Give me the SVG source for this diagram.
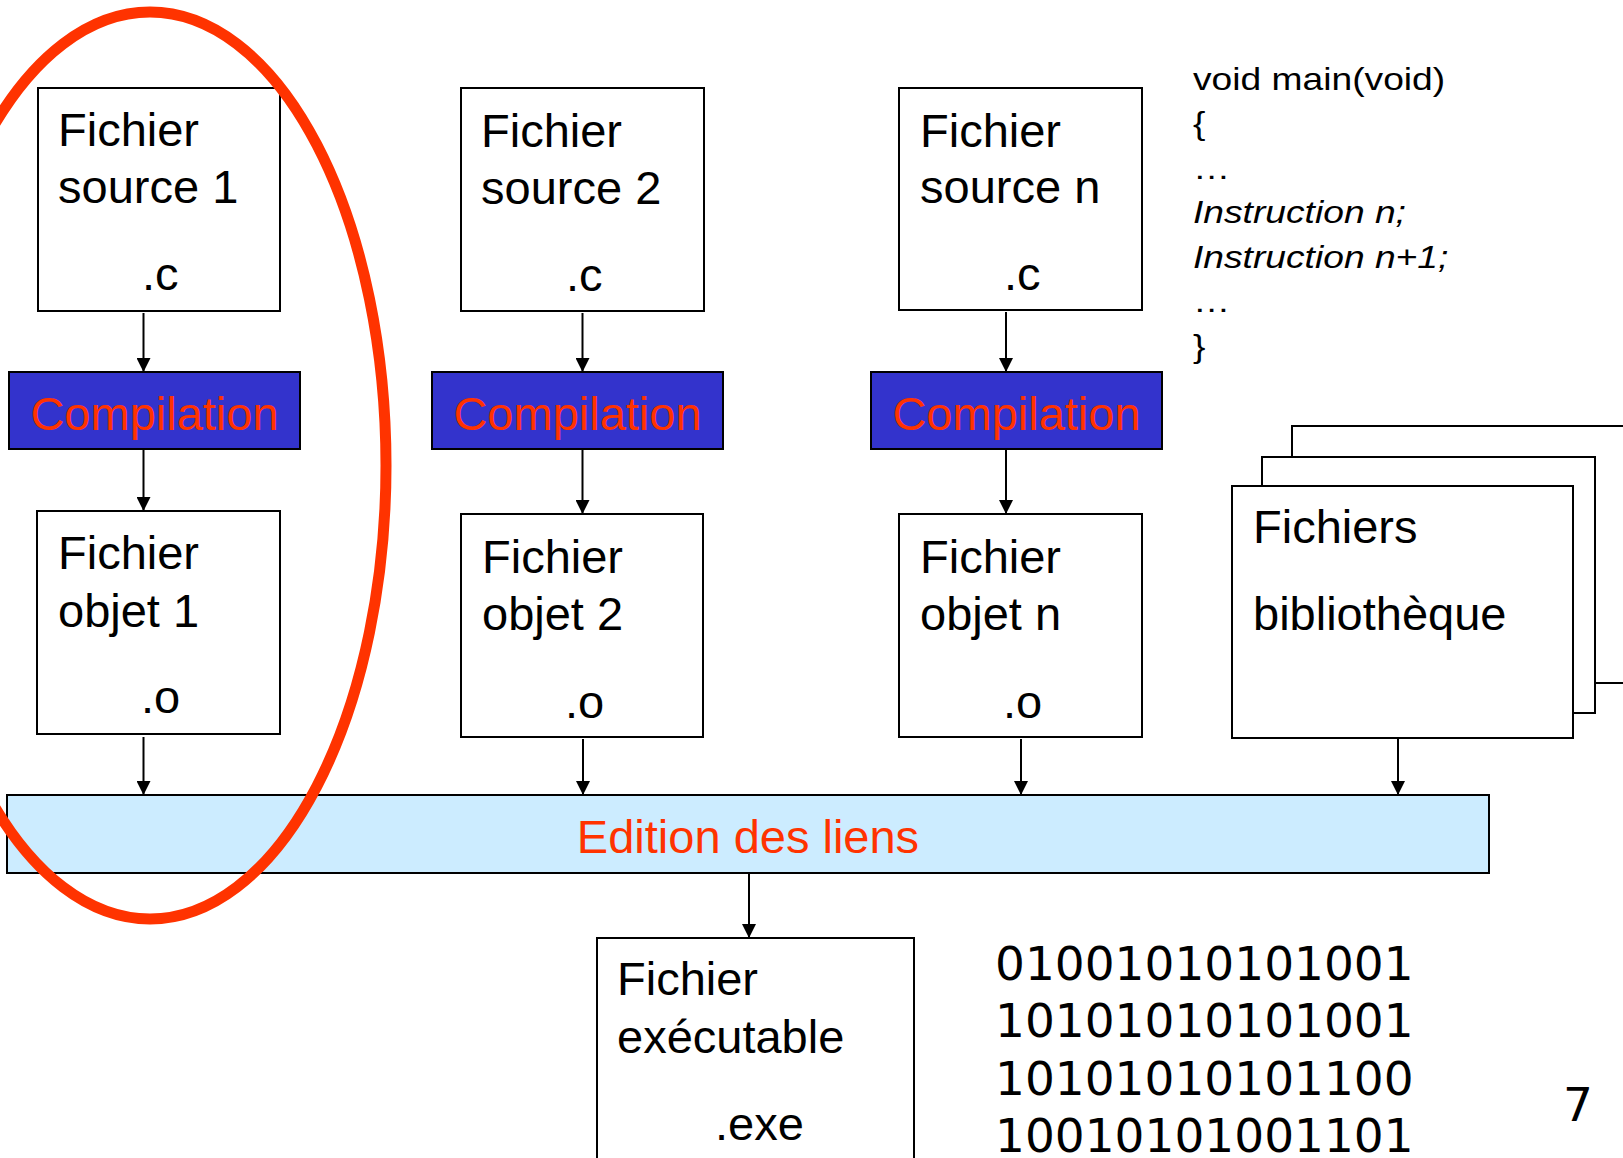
<svg xmlns="http://www.w3.org/2000/svg" width="1623" height="1158" viewBox="0 0 1623 1158">
  <defs>
    <marker id="arrow" markerUnits="userSpaceOnUse" markerWidth="14" markerHeight="14" refX="14" refY="7" orient="auto">
      <path d="M0,0 L14,7 L0,14 z" fill="#000"/>
    </marker>
    <style>
      .box { fill: #fff; stroke: #000; stroke-width: 2; }
      .comp { fill: #3333CC; stroke: #000; stroke-width: 2; }
      .link { fill: #CCECFF; stroke: #000; stroke-width: 2; }
      .txt { font-family: "Liberation Sans", Arial, sans-serif; font-size: 47px; fill: #000; }
      .red { font-family: "Liberation Sans", Arial, sans-serif; font-size: 47px; fill: #FF3300; text-anchor: middle; }
      .code { font-family: "Liberation Sans", Arial, sans-serif; font-size: 31px; fill: #000; }
      .bin { font-family: "DejaVu Sans", Verdana, sans-serif; font-size: 47px; fill: #000; }
      .conn { stroke: #000; stroke-width: 2; fill: none; marker-end: url(#arrow); }
    </style>
  </defs>

  <rect width="1623" height="1158" fill="#fff"/>

  <!-- source files -->
  <g id="source1">
    <rect class="box" x="38" y="88" width="242" height="223"/>
    <text class="txt" x="58" y="146">Fichier</text>
    <text class="txt" x="58" y="203">source 1</text>
    <text class="txt" x="142" y="290">.c</text>
  </g>
  <g id="source2">
    <rect class="box" x="461" y="88" width="243" height="223"/>
    <text class="txt" x="481" y="147">Fichier</text>
    <text class="txt" x="481" y="204">source 2</text>
    <text class="txt" x="566" y="291">.c</text>
  </g>
  <g id="sourceN">
    <rect class="box" x="899" y="88" width="243" height="222"/>
    <text class="txt" x="920" y="147">Fichier</text>
    <text class="txt" x="920" y="203">source n</text>
    <text class="txt" x="1004" y="290">.c</text>
  </g>

  <!-- compilation steps -->
  <g id="compilation1">
    <rect class="comp" x="9" y="372" width="291" height="77"/>
    <text class="red" x="154.5" y="430">Compilation</text>
  </g>
  <g id="compilation2">
    <rect class="comp" x="432" y="372" width="291" height="77"/>
    <text class="red" x="577.5" y="430">Compilation</text>
  </g>
  <g id="compilationN">
    <rect class="comp" x="871" y="372" width="291" height="77"/>
    <text class="red" x="1016.5" y="430">Compilation</text>
  </g>

  <!-- object files -->
  <g id="objet1">
    <rect class="box" x="37" y="511" width="243" height="223"/>
    <text class="txt" x="58" y="569">Fichier</text>
    <text class="txt" x="58" y="627">objet 1</text>
    <text class="txt" x="141" y="713">.o</text>
  </g>
  <g id="objet2">
    <rect class="box" x="461" y="514" width="242" height="223"/>
    <text class="txt" x="482" y="573">Fichier</text>
    <text class="txt" x="482" y="630">objet 2</text>
    <text class="txt" x="565" y="718">.o</text>
  </g>
  <g id="objetN">
    <rect class="box" x="899" y="514" width="243" height="223"/>
    <text class="txt" x="920" y="573">Fichier</text>
    <text class="txt" x="920" y="630">objet n</text>
    <text class="txt" x="1003" y="718">.o</text>
  </g>

  <!-- stacked library files -->
  <g id="bibliotheque">
    <rect class="box" x="1292" y="426" width="360" height="257"/>
    <rect class="box" x="1262" y="457" width="333" height="256"/>
    <rect class="box" x="1232" y="486" width="341" height="252"/>
    <text class="txt" x="1253" y="543">Fichiers</text>
    <text class="txt" x="1253" y="630">bibliothèque</text>
  </g>

  <!-- link editing -->
  <g id="edition">
    <rect class="link" x="7" y="795" width="1482" height="78"/>
    <text class="red" x="748" y="853">Edition des liens</text>
  </g>

  <!-- executable -->
  <g id="executable">
    <rect class="box" x="597" y="938" width="317" height="240"/>
    <text class="txt" x="617" y="995">Fichier</text>
    <text class="txt" x="617" y="1053">exécutable</text>
    <text class="txt" x="715" y="1140">.exe</text>
  </g>

  <!-- connectors -->
  <g id="connectors">
    <line class="conn" x1="143.5" y1="313" x2="143.5" y2="372"/>
    <line class="conn" x1="582.5" y1="313" x2="582.5" y2="372"/>
    <line class="conn" x1="1006" y1="312" x2="1006" y2="372"/>
    <line class="conn" x1="143.5" y1="450" x2="143.5" y2="511"/>
    <line class="conn" x1="582.5" y1="450" x2="582.5" y2="514"/>
    <line class="conn" x1="1006" y1="450" x2="1006" y2="514"/>
    <line class="conn" x1="143.5" y1="737" x2="143.5" y2="795"/>
    <line class="conn" x1="583" y1="739" x2="583" y2="795"/>
    <line class="conn" x1="1021" y1="739" x2="1021" y2="795"/>
    <line class="conn" x1="1398" y1="739" x2="1398" y2="795"/>
    <line class="conn" x1="749" y1="874" x2="749" y2="938"/>
  </g>

  <!-- C source excerpt -->
  <g id="code" transform="translate(1193,0) scale(1.2,1)">
    <text class="code" x="0" y="90">void main(void)</text>
    <text class="code" x="0" y="134.5">{</text>
    <text class="code" x="0" y="179">…</text>
    <text class="code" x="0" y="223.5" font-style="italic">Instruction n;</text>
    <text class="code" x="0" y="268" font-style="italic">Instruction n+1;</text>
    <text class="code" x="0" y="312.5">…</text>
    <text class="code" x="0" y="357">}</text>
  </g>

  <!-- machine code -->
  <g id="binaire">
    <text class="bin" x="995" y="980">01001010101001</text>
    <text class="bin" x="995" y="1037">10101010101001</text>
    <text class="bin" x="995" y="1095">10101010101100</text>
    <text class="bin" x="995" y="1152">10010101001101</text>
  </g>

  <text id="page" class="bin" x="1563" y="1121" font-size="35">7</text>

  <!-- highlight around the first chain -->
  <ellipse id="surlignage" cx="150" cy="465.5" rx="236" ry="453.5" fill="none" stroke="#FF3300" stroke-width="11"/>
</svg>
